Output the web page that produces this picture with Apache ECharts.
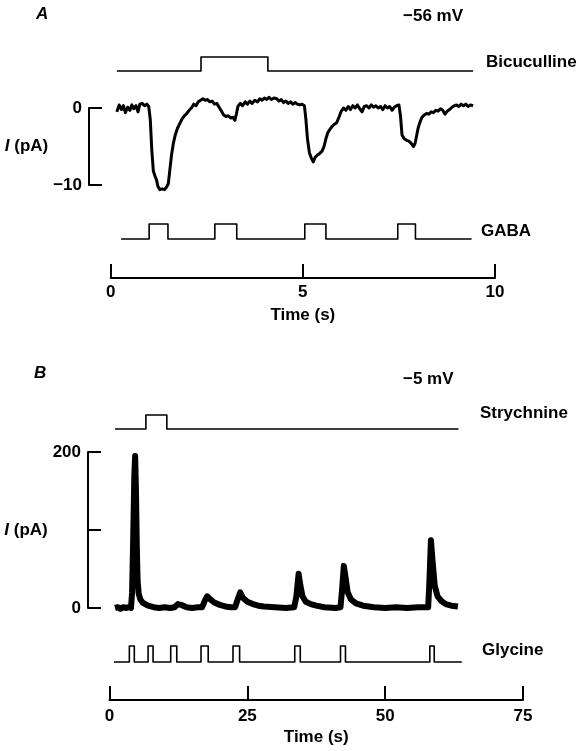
<!DOCTYPE html>
<html><head><meta charset="utf-8">
<script src="https://cdn.jsdelivr.net/npm/echarts@6/dist/echarts.min.js"></script>
<style>html,body{margin:0;padding:0;background:#fff}#c{width:578px;height:751px}</style>
</head><body><div id="c"></div>
<script>
// ---------- Panel A (-56 mV) ----------
const timeA = [0.16,0.22,0.28,0.33,0.38,0.44,0.50,0.55,0.60,0.66,0.71,0.76,0.82,0.88,0.94,0.99,1.03,1.07,1.11,1.15,1.19,1.23,1.28,1.34,1.40,1.45,1.50,1.54,1.58,1.63,1.68,1.74,1.80,1.86,1.92,1.98,2.04,2.10,2.16,2.22,2.28,2.34,2.40,2.46,2.52,2.58,2.64,2.70,2.76,2.82,2.88,2.94,3.00,3.06,3.12,3.18,3.23,3.27,3.31,3.37,3.43,3.50,3.56,3.62,3.68,3.75,3.82,3.88,3.94,4.00,4.06,4.12,4.18,4.25,4.32,4.38,4.44,4.50,4.56,4.62,4.68,4.74,4.80,4.86,4.92,4.98,5.04,5.08,5.12,5.17,5.22,5.27,5.32,5.38,5.44,5.50,5.55,5.60,5.65,5.70,5.76,5.82,5.88,5.94,6.00,6.06,6.12,6.18,6.24,6.30,6.36,6.42,6.48,6.54,6.60,6.66,6.72,6.78,6.84,6.90,6.96,7.02,7.08,7.14,7.20,7.26,7.32,7.38,7.44,7.50,7.54,7.58,7.64,7.70,7.76,7.82,7.88,7.92,7.96,8.00,8.05,8.10,8.16,8.22,8.28,8.34,8.40,8.46,8.52,8.58,8.64,8.70,8.76,8.82,8.88,8.94,9.00,9.06,9.12,9.18,9.24,9.30,9.36,9.43];
const currentA = [-0.5,0.4,-0.2,0.3,-0.6,0.1,-0.3,0.4,-0.1,0.3,-0.5,0.5,0.6,0.3,0.5,0.2,-1.5,-5.5,-8.2,-8.8,-9.3,-10.2,-10.6,-10.5,-10.6,-10.3,-9.8,-8.0,-6.2,-4.6,-3.5,-2.6,-2.0,-1.4,-1.0,-0.7,-0.3,0.0,0.5,0.3,0.8,1.0,1.2,1.0,1.1,0.8,0.9,0.5,0.6,0.1,-0.4,-0.9,-1.1,-1.0,-1.3,-1.2,-1.6,-0.8,0.2,0.6,0.3,0.8,0.5,0.9,0.6,1.0,0.8,1.2,1.0,1.3,1.1,1.4,1.1,1.3,1.2,0.9,1.1,0.7,0.9,0.6,0.8,0.5,0.7,0.5,0.4,0.5,0.3,-1.5,-4.0,-5.8,-6.5,-7.0,-6.4,-6.1,-5.9,-5.6,-5.0,-4.0,-3.2,-2.8,-2.4,-2.1,-1.9,-1.2,-0.4,0.0,-0.3,0.2,-0.2,0.3,0.0,0.4,-0.1,-0.5,0.2,0.3,0.0,0.4,0.1,0.3,0.0,0.2,-0.2,0.3,0.0,0.2,-0.3,0.1,0.3,0.4,-1.0,-3.5,-4.0,-4.2,-4.3,-4.6,-5.0,-4.6,-3.6,-2.6,-1.8,-1.2,-0.9,-0.7,-0.8,-0.5,-0.6,-0.3,-0.4,-0.1,-0.3,-0.8,-0.4,-0.2,0.1,0.3,0.4,0.2,0.5,0.3,0.5,0.2,0.4,0.3];
const bicucullineSpan = [0.16, 9.43];
const bicucullinePulses = [[2.35, 4.09]];
const gabaSpan = [0.27, 9.39];
const gabaPulses = [[1.0,1.49],[2.71,3.28],[5.05,5.6],[7.47,7.93]];
const timeRangeA = [0, 10];
const timeStepA = 5;
const currentTicksA = [-10, 0];

// ---------- Panel B (-5 mV) ----------
const timeB = [1.0,1.5,2.0,2.5,3.0,3.5,3.9,4.1,4.3,4.5,4.65,4.8,4.95,5.1,5.3,5.6,6.0,6.5,7.0,7.5,8.0,9.0,10.0,11.0,11.8,12.4,13.0,14.0,15.0,16.0,16.8,17.2,17.7,18.3,19.0,20.0,21.0,22.0,22.8,23.2,23.7,24.2,25.0,26.0,27.0,28.0,30.0,32.0,33.5,33.9,34.3,34.6,35.0,35.6,36.5,37.5,39.0,41.0,41.9,42.2,42.5,42.8,43.2,43.8,44.7,46.0,48.0,50.0,52.0,54.0,56.0,57.8,58.0,58.3,58.6,59.0,59.5,60.2,61.0,62.0,63.2];
const currentB = [0,1,-1,1,0,1,0,20,90,170,195,150,80,35,18,11,7,5,3,2,1,0,1,0,1,5,4,1,0,1,1,8,15,11,7,4,2,1,1,10,20,13,8,5,3,2,1,0,1,15,44,30,15,8,5,3,1,0,1,25,54,40,20,11,6,3,1,0,1,0,1,1,30,87,60,28,15,9,5,3,2];
const strychnineSpan = [1.0, 63.3];
const strychninePulses = [[6.6, 10.4]];
const glycineSpan = [0.8, 63.9];
const glycinePulses = [[3.6,4.5],[7.0,7.9],[11.1,12.2],[16.6,17.9],[22.4,23.6],[33.6,34.6],[41.9,42.8],[58.1,58.9]];
const timeRangeB = [0, 75];
const timeStepB = 25;
const currentTicksB = [0, 100, 200];
const currentTickLabelsB = {0:'0', 100:'', 200:'200'};

// ---------- helpers ----------
function pairs(xs, ys){ return xs.map((x,i)=>[x, ys[i]]); }
function stepData(span, pulses){
  const pts = [[span[0],0]];
  pulses.forEach(([on,off])=>{ pts.push([on,0],[on,1],[off,1],[off,0]); });
  pts.push([span[1],0]);
  return pts;
}
const FONT = '"Liberation Sans", Arial, sans-serif';
const FS = 17;
const INK = '#000';
const txt = {fontFamily: FONT, fontSize: FS, fontWeight: 'bold', color: INK};
const minus = v => String(v).replace('-', '\u2212');

const LA = 110.7, WA = 384.3, LB = 109.5, WB = 413.5;
const grids = [
  {left: LA, top: 57, width: WA, height: 14},      // 0 bicuculline
  {left: LA, top: 92.6, width: WA, height: 100.1}, // 1 current A
  {left: LA, top: 224, width: WA, height: 15},     // 2 GABA
  {left: LA, top: 268, width: WA, height: 10},     // 3 time axis A
  {left: 69, top: 108, width: 20, height: 77},     // 4 scale bar A
  {left: LB, top: 415, width: WB, height: 14},     // 5 strychnine
  {left: LB, top: 444.2, width: WB, height: 171.6},// 6 current B
  {left: LB, top: 646, width: WB, height: 16},     // 7 glycine
  {left: LB, top: 690, width: WB, height: 10},     // 8 time axis B
  {left: 68, top: 452, width: 20, height: 156}     // 9 scale bar B
];
const hiddenX = (i, r) => ({gridIndex: i, type: 'value', min: r[0], max: r[1], show: false});
const hiddenY = (i, mn, mx) => ({gridIndex: i, type: 'value', min: mn, max: mx, show: false});
const axisLineStyle = {color: INK, width: 2};

const xAxes = [
  hiddenX(0, timeRangeA), hiddenX(1, timeRangeA), hiddenX(2, timeRangeA),
  {gridIndex: 3, type: 'value', min: timeRangeA[0], max: timeRangeA[1], interval: timeStepA,
   axisLine: {show: true, lineStyle: axisLineStyle}, axisTick: {show: true, inside: true, length: 14, lineStyle: axisLineStyle},
   axisLabel: Object.assign({margin: 6}, txt), splitLine: {show: false},
   name: 'Time (s)', nameLocation: 'middle', nameGap: 29, nameTextStyle: txt},
  hiddenX(4, [0,1]),
  hiddenX(5, timeRangeB), hiddenX(6, timeRangeB), hiddenX(7, timeRangeB),
  {gridIndex: 8, type: 'value', min: timeRangeB[0], max: timeRangeB[1], interval: timeStepB,
   axisLine: {show: true, lineStyle: axisLineStyle}, axisTick: {show: true, inside: true, length: 14, lineStyle: axisLineStyle},
   axisLabel: Object.assign({margin: 8}, txt), splitLine: {show: false},
   name: 'Time (s)', nameLocation: 'middle', nameGap: 29, nameTextStyle: txt},
  hiddenX(9, [0,1])
];
const nameStyle = Object.assign({}, txt, {rich: {i: {fontFamily: FONT, fontSize: FS, fontWeight: 'bold', fontStyle: 'italic', color: INK}}});
const yAxes = [
  hiddenY(0, 0, 1), hiddenY(1, -11, 2), hiddenY(2, 0, 1), hiddenY(3, 0, 1),
  {gridIndex: 4, type: 'value', position: 'left', min: currentTicksA[0], max: currentTicksA[1], interval: currentTicksA[1]-currentTicksA[0],
   axisLine: {show: true, lineStyle: axisLineStyle}, axisTick: {show: true, inside: true, length: 13, lineStyle: axisLineStyle},
   axisLabel: Object.assign({margin: 7, formatter: minus}, txt), splitLine: {show: false},
   name: '{i|I} (pA)', nameLocation: 'middle', nameRotate: 0, nameGap: 10, nameTextStyle: nameStyle},
  hiddenY(5, 0, 1), hiddenY(6, -10, 210), hiddenY(7, 0, 1), hiddenY(8, 0, 1),
  {gridIndex: 9, type: 'value', position: 'left', min: currentTicksB[0], max: currentTicksB[2], interval: currentTicksB[1]-currentTicksB[0],
   axisLine: {show: true, lineStyle: axisLineStyle}, axisTick: {show: true, inside: true, length: 13, lineStyle: axisLineStyle},
   axisLabel: Object.assign({margin: 7, formatter: v => currentTickLabelsB[v]}, txt), splitLine: {show: false},
   name: '{i|I} (pA)', nameLocation: 'middle', nameRotate: 0, nameGap: 10, nameTextStyle: nameStyle}
];
const line = (idx, data, w) => ({type: 'line', xAxisIndex: idx, yAxisIndex: idx, data: data, showSymbol: false, symbol: 'none',
  clip: false, lineStyle: {color: INK, width: w, join: 'round'}, silent: true});
const series = [
  line(0, stepData(bicucullineSpan, bicucullinePulses), 1.6),
  line(1, pairs(timeA, currentA), 3),
  line(2, stepData(gabaSpan, gabaPulses), 1.6),
  line(5, stepData(strychnineSpan, strychninePulses), 1.6),
  line(6, pairs(timeB, currentB), 6),
  line(7, stepData(glycineSpan, glycinePulses), 1.6)
];
const label = (text, x, y, extra) => ({type: 'text', x: x, y: y, silent: true,
  style: Object.assign({text: text, font: 'bold ' + FS + 'px ' + FONT, fill: INK, textAlign: 'left', textVerticalAlign: 'middle', align: 'left', verticalAlign: 'middle'}, extra || {})});
const graphics = [
  label('A', 36, 14, {font: 'italic bold ' + FS + 'px ' + FONT}),
  label('\u221256 mV', 403, 16),
  label('Bicuculline', 486, 62),
  label('GABA', 481, 231),
  label('B', 34, 373, {font: 'italic bold ' + FS + 'px ' + FONT}),
  label('\u22125 mV', 403, 379),
  label('Strychnine', 480, 413),
  label('Glycine', 482, 650)
];
const chart = echarts.init(document.getElementById('c'), null, {renderer: 'canvas'});
chart.setOption({animation: false, backgroundColor: '#fff', grid: grids, xAxis: xAxes, yAxis: yAxes, series: series, graphic: graphics});
</script></body></html>
